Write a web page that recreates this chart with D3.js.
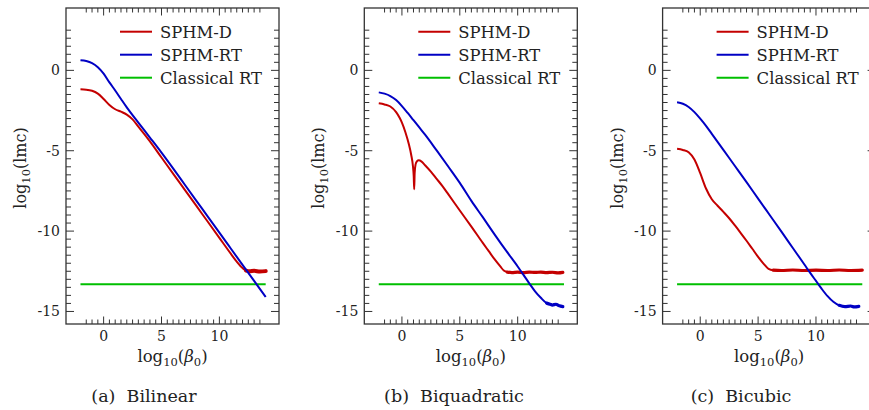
<!DOCTYPE html>
<html>
<head>
<meta charset="utf-8">
<script src="https://cdnjs.cloudflare.com/ajax/libs/d3/7.8.5/d3.min.js"></script>
<style>
body { margin: 0; background: #fff; }
text { font-family: "DejaVu Serif", serif; fill: #222; }
</style>
</head>
<body>
<script>
var WIDTH = 869;
var HEIGHT = 410;
var PANEL_LEFT = [66, 364.3, 662.6];
var PLOT_W = 213;
var PLOT_TOP = 8;
var PLOT_BOTTOM = 324;
var CAPTION_X = [144, 454, 741];

var captions = ['(a)\u00a0\u00a0Bilinear', '(b)\u00a0\u00a0Biquadratic', '(c)\u00a0\u00a0Bicubic'];
var seriesNames = ['SPHM-D', 'SPHM-RT', 'Classical RT'];
var seriesColors = ['#c40000', '#0000c4', '#00bf00'];
var xMajorTicks = [0, 5, 10];
var yMajorTicks = [0, -5, -10, -15];
var xMinorRange = [-1.5, 13.5];
var yMinorRange = [-15, 2.5];
var xDomain = [-3.25, 15.15];
var yDomain = [-15.78, 3.88];

// SPHM-D / SPHM-RT curves, [log10(beta0), log10(lmc)]
var bilinearD = [[-2,-1.18],[-1.5,-1.2],[-1,-1.27],[-0.5,-1.45],[0,-1.78],[0.5,-2.15],[1,-2.42],[1.5,-2.57],[2,-2.75],[2.5,-3.05],[3,-3.5],[3.5,-3.95],[4,-4.42],[5,-5.42],[6,-6.42],[7,-7.42],[8,-8.42],[9,-9.42],[10,-10.42],[11,-11.42],[11.5,-11.9],[12,-12.3],[12.3,-12.46],[12.6,-12.5],[13,-12.47],[13.5,-12.52],[14,-12.49]];
var bilinearRT = [[-2,0.63],[-1.5,0.58],[-1,0.45],[-0.5,0.2],[0,-0.2],[0.5,-0.75],[1,-1.25],[1.5,-1.78],[2,-2.3],[3,-3.25],[4,-4.18],[5,-5.12],[6,-6.1],[7,-7.1],[8,-8.1],[9,-9.1],[10,-10.1],[11,-11.1],[12,-12.1],[13,-13.1],[14,-14.1]];

var biquadD = [[-2,-2.05],[-1.5,-2.12],[-1,-2.25],[-0.5,-2.6],[-0.2,-2.95],[0,-3.25],[0.3,-3.85],[0.6,-4.6],[0.8,-5.25],[0.95,-5.95],[1.02,-6.6],[1.06,-7.4],[1.1,-6.4],[1.18,-5.85],[1.3,-5.65],[1.45,-5.6],[1.7,-5.68],[2,-5.9],[2.5,-6.3],[3,-6.75],[3.5,-7.2],[4,-7.7],[5,-8.72],[6,-9.72],[7,-10.75],[7.5,-11.25],[8,-11.75],[8.5,-12.2],[8.8,-12.45],[9.1,-12.55],[9.5,-12.58],[10,-12.55],[10.5,-12.58],[11,-12.55],[11.5,-12.57],[12,-12.55],[12.5,-12.58],[13,-12.56],[13.5,-12.6],[13.9,-12.57]];
var biquadRT = [[-2,-1.37],[-1.5,-1.45],[-1,-1.6],[-0.5,-1.85],[0,-2.22],[0.5,-2.65],[1,-3.1],[1.5,-3.55],[2,-4.0],[3,-4.98],[4,-5.98],[5,-7.0],[6,-8.12],[7,-9.15],[8,-10.2],[9,-11.22],[10,-12.2],[10.5,-12.72],[11,-13.25],[11.5,-13.75],[12,-14.15],[12.5,-14.48],[12.8,-14.55],[13,-14.6],[13.3,-14.55],[13.6,-14.65],[13.9,-14.7]];

var bicubicD = [[-2,-4.88],[-1.5,-4.95],[-1,-5.1],[-0.5,-5.55],[0,-6.4],[0.5,-7.35],[1,-8.02],[1.5,-8.42],[2,-8.8],[2.5,-9.2],[3,-9.65],[3.5,-10.12],[4,-10.6],[4.5,-11.1],[5,-11.6],[5.5,-12.05],[5.9,-12.35],[6.3,-12.43],[7,-12.45],[8,-12.42],[9,-12.45],[10,-12.43],[11,-12.45],[12,-12.42],[13,-12.45],[14,-12.43]];
var bicubicRT = [[-2,-1.99],[-1.5,-2.08],[-1,-2.28],[-0.5,-2.6],[0,-3.0],[0.5,-3.45],[1,-3.95],[1.5,-4.45],[2,-4.95],[3,-5.95],[4,-6.95],[5,-7.98],[6,-9.0],[7,-10.02],[8,-11.05],[9,-12.08],[9.5,-12.6],[10,-13.1],[10.5,-13.6],[11,-14.05],[11.5,-14.4],[12,-14.62],[12.5,-14.7],[13,-14.66],[13.3,-14.72],[13.7,-14.68]];

var classicalRT = -13.3;
var classicalRange = [-2, 14];
// x where the noisy round-off floor begins (drawn thicker), per panel [D, RT]
var floorStart = [[12.2, null], [8.9, 12.3], [6.0, 11.6]];

var panels = [
    [bilinearD, bilinearRT],
    [biquadD, biquadRT],
    [bicubicD, bicubicRT]
];

var svg = d3.select('body').append('svg')
    .attr('width', WIDTH)
    .attr('height', HEIGHT);

panels.forEach(function(curves, p){
    drawPanel(p, curves);
});

function drawPanel(p, curves){
    var left = PANEL_LEFT[p];
    var x = d3.scaleLinear().domain(xDomain).range([left, left + PLOT_W]);
    var y = d3.scaleLinear().domain(yDomain).range([PLOT_BOTTOM, PLOT_TOP]);
    var g = svg.append('g').attr('class', 'panel-' + p);

    var line = d3.line()
        .x(function(d){return x(d[0]);})
        .y(function(d){return y(d[1]);})
        .curve(d3.curveMonotoneX);

    // classical RT
    g.append('path')
        .datum([[classicalRange[0], classicalRT], [classicalRange[1], classicalRT]])
        .attr('d', line)
        .attr('fill', 'none')
        .attr('stroke', seriesColors[2])
        .attr('stroke-width', 2);

    curves.forEach(function(c, i){
        g.append('path')
            .datum(c)
            .attr('d', line)
            .attr('fill', 'none')
            .attr('stroke', seriesColors[i])
            .attr('stroke-width', 2)
            .attr('stroke-linejoin', 'round');
        var fs = floorStart[p][i];
        if (fs !== null){
            g.append('path')
                .datum(c.filter(function(d){return d[0] >= fs;}))
                .attr('d', line)
                .attr('fill', 'none')
                .attr('stroke', seriesColors[i])
                .attr('stroke-width', p === 0 ? 4 : 3.2)
                .attr('stroke-linecap', 'round');
        }
    });

    // frame
    g.append('rect')
        .attr('x', left)
        .attr('y', PLOT_TOP)
        .attr('width', PLOT_W)
        .attr('height', PLOT_BOTTOM - PLOT_TOP)
        .attr('fill', 'none')
        .attr('stroke', '#333')
        .attr('stroke-width', 1.3);

    // ticks, inside on all four sides
    var xTicks = d3.range(xMinorRange[0], xMinorRange[1] + 0.01, 0.5);
    var yTicks = d3.range(yMinorRange[0], yMinorRange[1] + 0.01, 0.5);
    function isMajor(v, list){ return list.indexOf(v) >= 0; }

    g.selectAll('.xtick-b').data(xTicks).enter().append('line')
        .attr('x1', function(d){return x(d);}).attr('x2', function(d){return x(d);})
        .attr('y1', PLOT_BOTTOM)
        .attr('y2', function(d){return PLOT_BOTTOM - (isMajor(d, xMajorTicks) ? 7.5 : 4.5);})
        .attr('stroke', '#333').attr('stroke-width', 1);
    g.selectAll('.xtick-t').data(xTicks).enter().append('line')
        .attr('x1', function(d){return x(d);}).attr('x2', function(d){return x(d);})
        .attr('y1', PLOT_TOP)
        .attr('y2', function(d){return PLOT_TOP + (isMajor(d, xMajorTicks) ? 7.5 : 4.5);})
        .attr('stroke', '#333').attr('stroke-width', 1);
    g.selectAll('.ytick-l').data(yTicks).enter().append('line')
        .attr('y1', function(d){return y(d);}).attr('y2', function(d){return y(d);})
        .attr('x1', left)
        .attr('x2', function(d){return left + (isMajor(d, yMajorTicks) ? 8 : 5);})
        .attr('stroke', '#333').attr('stroke-width', 1);
    g.selectAll('.ytick-r').data(yTicks).enter().append('line')
        .attr('y1', function(d){return y(d);}).attr('y2', function(d){return y(d);})
        .attr('x1', left + PLOT_W)
        .attr('x2', function(d){return left + PLOT_W - (isMajor(d, yMajorTicks) ? 8 : 5);})
        .attr('stroke', '#333').attr('stroke-width', 1);

    // tick labels
    g.selectAll('.xlab').data(xMajorTicks).enter().append('text')
        .attr('x', function(d){return x(d);})
        .attr('y', PLOT_BOTTOM + 17)
        .attr('text-anchor', 'middle')
        .attr('font-size', 14)
        .text(function(d){return d;});
    g.selectAll('.ylab').data(yMajorTicks).enter().append('text')
        .attr('x', left - 6)
        .attr('y', function(d){return y(d) + 5;})
        .attr('text-anchor', 'end')
        .attr('font-size', 14)
        .text(function(d){return d === 0 ? '0' : '-' + Math.abs(d);});

    // axis titles
    var xt = g.append('text')
        .attr('x', left + PLOT_W / 2)
        .attr('y', 362)
        .attr('text-anchor', 'middle')
        .attr('font-size', 16.5);
    xt.append('tspan').text('log');
    xt.append('tspan').attr('dy', 4).attr('font-size', 11.5).text('10');
    xt.append('tspan').attr('dy', -4).text('(');
    xt.append('tspan').attr('font-style', 'italic').text('\u03b2');
    xt.append('tspan').attr('dy', 4).attr('font-size', 11.5).text('0');
    xt.append('tspan').attr('dy', -4).text(')');

    var cy = (PLOT_TOP + PLOT_BOTTOM) / 2 + 2;
    var yt = g.append('text')
        .attr('transform', 'translate(' + (left - 40) + ',' + cy + ') rotate(-90)')
        .attr('text-anchor', 'middle')
        .attr('font-size', 16);
    yt.append('tspan').text('log');
    yt.append('tspan').attr('dy', 4).attr('font-size', 11.5).text('10');
    yt.append('tspan').attr('dy', -4).text('(lmc)');

    // legend
    seriesNames.forEach(function(name, i){
        var ly = 31.7 + i * 23;
        g.append('line')
            .attr('x1', left + 54).attr('x2', left + 86)
            .attr('y1', ly).attr('y2', ly)
            .attr('stroke', seriesColors[i])
            .attr('stroke-width', 2);
        g.append('text')
            .attr('x', left + 94)
            .attr('y', ly + 6)
            .attr('font-size', 16.4)
            .text(name);
    });

    // caption
    g.append('text')
        .attr('x', CAPTION_X[p])
        .attr('y', 402)
        .attr('text-anchor', 'middle')
        .attr('font-size', 17.5)
        .text(captions[p]);
}
</script>
</body>
</html>
